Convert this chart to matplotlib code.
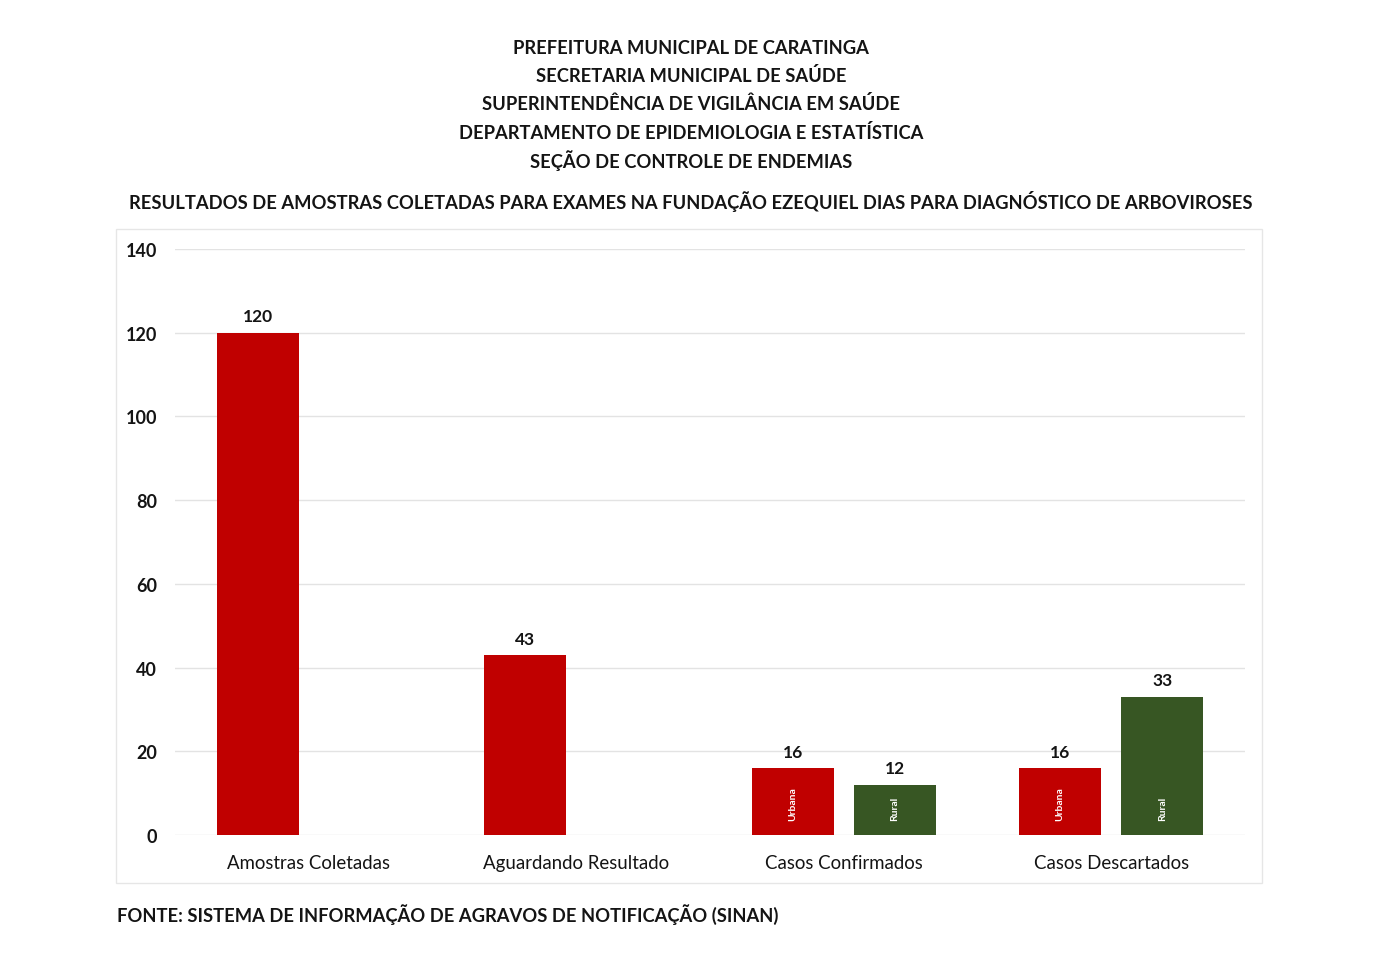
import matplotlib
matplotlib.use("Agg")
from matplotlib import pyplot as plt
from matplotlib.patches import Rectangle
import numpy as np

plt.rcParams['font.family'] = ['Lato', 'DejaVu Sans']

categories = ['Amostras Coletadas', 'Aguardando Resultado', 'Casos Confirmados', 'Casos Descartados']
urbana = [120, 43, 16, 16]
rural = [None, None, 12, 33]
inner_urbana = [None, None, 'Urbana', 'Urbana']
inner_rural = [None, None, 'Rural', 'Rural']

header = ['PREFEITURA MUNICIPAL DE CARATINGA',
          'SECRETARIA MUNICIPAL DE SAÚDE',
          'SUPERINTENDÊNCIA DE VIGILÂNCIA EM SAÚDE',
          'DEPARTAMENTO DE EPIDEMIOLOGIA E ESTATÍSTICA',
          'SEÇÃO DE CONTROLE DE ENDEMIAS']
subtitle = 'RESULTADOS DE AMOSTRAS COLETADAS PARA EXAMES NA FUNDAÇÃO EZEQUIEL DIAS PARA DIAGNÓSTICO DE ARBOVIROSES'
source = 'FONTE: SISTEMA DE INFORMAÇÃO DE AGRAVOS DE NOTIFICAÇÃO (SINAN)'

red = '#C00000'
green = '#375623'
txt = '#141414'

W, H = 1383, 979
fig = plt.figure(figsize=(W / 100, H / 100), dpi=100)

# chart area border
fig.patches.append(Rectangle((116 / W, 1 - 884 / H), (1262 - 116) / W, (884 - 230) / H,
                             transform=fig.transFigure, fill=False, edgecolor='#E6E6E6', lw=1))

ax = fig.add_axes([175 / W, 1 - 836 / H, (1245 - 175) / W, (836 - 250) / H])

x = np.arange(len(categories))
bw = 0.307
off = 0.191

for i in range(len(categories)):
    if urbana[i] is not None:
        ax.bar(x[i] - off, urbana[i], bw, color=red, zorder=3)
        ax.text(x[i] - off, urbana[i] + 2.0, str(urbana[i]), ha='center', va='bottom',
                fontsize=12.5, fontweight='bold', color=txt)
        if inner_urbana[i]:
            ax.text(x[i] - off, 7.5, inner_urbana[i], rotation=90, ha='center', va='center',
                    fontsize=7.5, color='white', fontweight='bold')
    if rural[i] is not None:
        ax.bar(x[i] + off, rural[i], bw, color=green, zorder=3)
        ax.text(x[i] + off, rural[i] + 2.0, str(rural[i]), ha='center', va='bottom',
                fontsize=12.5, fontweight='bold', color=txt)
        if inner_rural[i]:
            ax.text(x[i] + off, 6.5, inner_rural[i], rotation=90, ha='center', va='center',
                    fontsize=7.5, color='white', fontweight='bold')

ax.set_xlim(-0.5, 3.5)
ax.set_ylim(0, 140)
ax.set_yticks(range(0, 141, 20))
ax.set_xticks(x)
ax.set_xticklabels(categories, fontsize=13.4, color=txt)
ax.tick_params(axis='x', length=0, pad=14)
ax.tick_params(axis='y', length=0, pad=13, labelsize=13, labelcolor=txt)
for lab in ax.get_yticklabels():
    lab.set_fontweight('bold')
ax.grid(axis='y', color='#E3E3E3', lw=1, zorder=0)
for s in ax.spines.values():
    s.set_visible(False)

for k, line in enumerate(header):
    fig.text(691 / W, 1 - (48 + 28.2 * k) / H, line, ha='center', va='center',
             fontsize=13.25, fontweight='bold', color=txt)
fig.text(691 / W, 1 - 202 / H, subtitle, ha='center', va='center',
         fontsize=13.25, fontweight='bold', color=txt)
fig.text(117 / W, 1 - 915 / H, source, ha='left', va='center',
         fontsize=13.25, fontweight='bold', color=txt)

fig.savefig('out.png', dpi=100, facecolor='white')
